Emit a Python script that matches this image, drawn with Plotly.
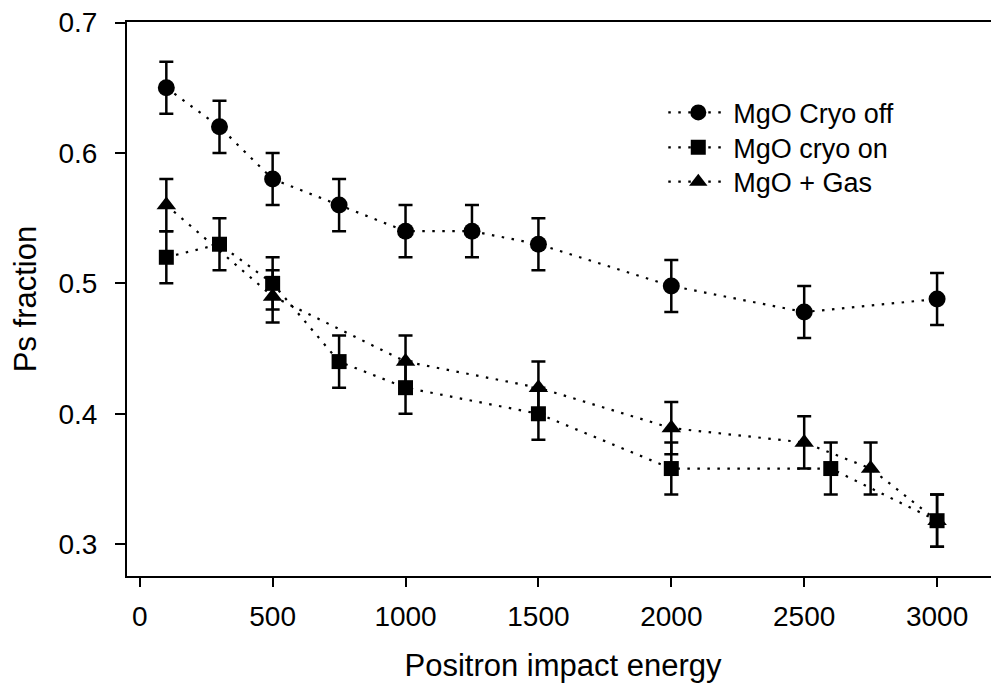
import plotly.graph_objects as go

# Data
x_off = [100, 300, 500, 750, 1000, 1250, 1500, 2000, 2500, 3000]
y_off = [0.65, 0.62, 0.58, 0.56, 0.54, 0.54, 0.53, 0.498, 0.478, 0.488]
e_off = [0.02] * len(x_off)

x_on = [100, 300, 500, 750, 1000, 1500, 2000, 2600, 3000]
y_on = [0.52, 0.53, 0.50, 0.44, 0.42, 0.40, 0.358, 0.358, 0.318]
e_on = [0.02] * len(x_on)

x_gas = [100, 500, 1000, 1500, 2000, 2500, 2750, 3000]
y_gas = [0.56, 0.49, 0.44, 0.42, 0.389, 0.378, 0.358, 0.318]
e_gas = [0.02] * len(x_gas)

x_ticks = [0, 500, 1000, 1500, 2000, 2500, 3000]
y_ticks = [0.3, 0.4, 0.5, 0.6, 0.7]

FONT = "Liberation Sans, Arial, sans-serif"
dot = "2.5px,7.5px"

def err(vals):
    return dict(type="data", array=vals, visible=True, color="black",
                thickness=2.5, width=7)

fig = go.Figure()
fig.add_trace(go.Scatter(
    x=x_off, y=y_off, name="MgO Cryo off", mode="lines+markers",
    line=dict(color="black", width=2.2, dash=dot),
    marker=dict(symbol="circle", size=17, color="black"),
    error_y=err(e_off), legend="legend"))
fig.add_trace(go.Scatter(
    x=x_gas, y=y_gas, name="MgO + Gas", mode="lines+markers",
    line=dict(color="black", width=2.2, dash=dot),
    marker=dict(symbol="triangle-up", size=17, color="black"),
    error_y=err(e_gas), legend="legend3"))
fig.add_trace(go.Scatter(
    x=x_on, y=y_on, name="MgO cryo on", mode="lines+markers",
    line=dict(color="black", width=2.2, dash=dot),
    marker=dict(symbol="square", size=15, color="black"),
    error_y=err(e_on), legend="legend2"))

def leg(yc):
    return dict(x=0.615, y=yc, xanchor="left", yanchor="middle",
                bgcolor="rgba(0,0,0,0)", font=dict(size=27), itemwidth=60)

fig.update_layout(
    width=991, height=684, autosize=False,
    margin=dict(l=119, r=0, t=14, b=116, autoexpand=False),
    paper_bgcolor="white", plot_bgcolor="white",
    font=dict(family=FONT, color="black", size=27),
    showlegend=True,
    legend=leg(0.836), legend2=leg(0.773), legend3=leg(0.711),
    xaxis=dict(
        range=[-48, 3233], tickvals=x_ticks, ticktext=[str(v) for v in x_ticks],
        showline=True, linecolor="black", linewidth=2, mirror=True,
        ticks="outside", ticklen=9, tickwidth=2, tickcolor="black",
        showgrid=False, zeroline=False, tickfont=dict(size=28),
        ticklabelstandoff=5, automargin=False, ticklabeloverflow="allow",
        title=dict(text="Positron impact energy", font=dict(size=31), standoff=24)),
    yaxis=dict(
        range=[0.2756, 0.7004], tickvals=y_ticks, ticktext=[f"{v:.1f}" for v in y_ticks],
        showline=True, linecolor="black", linewidth=2,
        ticks="outside", ticklen=10, tickwidth=2, tickcolor="black",
        showgrid=False, zeroline=False, tickfont=dict(size=28),
        ticklabelstandoff=12, automargin=False, ticklabeloverflow="allow",
        title=dict(text="Ps fraction", font=dict(size=31), standoff=22)),
)

fig.write_html("out.html")
